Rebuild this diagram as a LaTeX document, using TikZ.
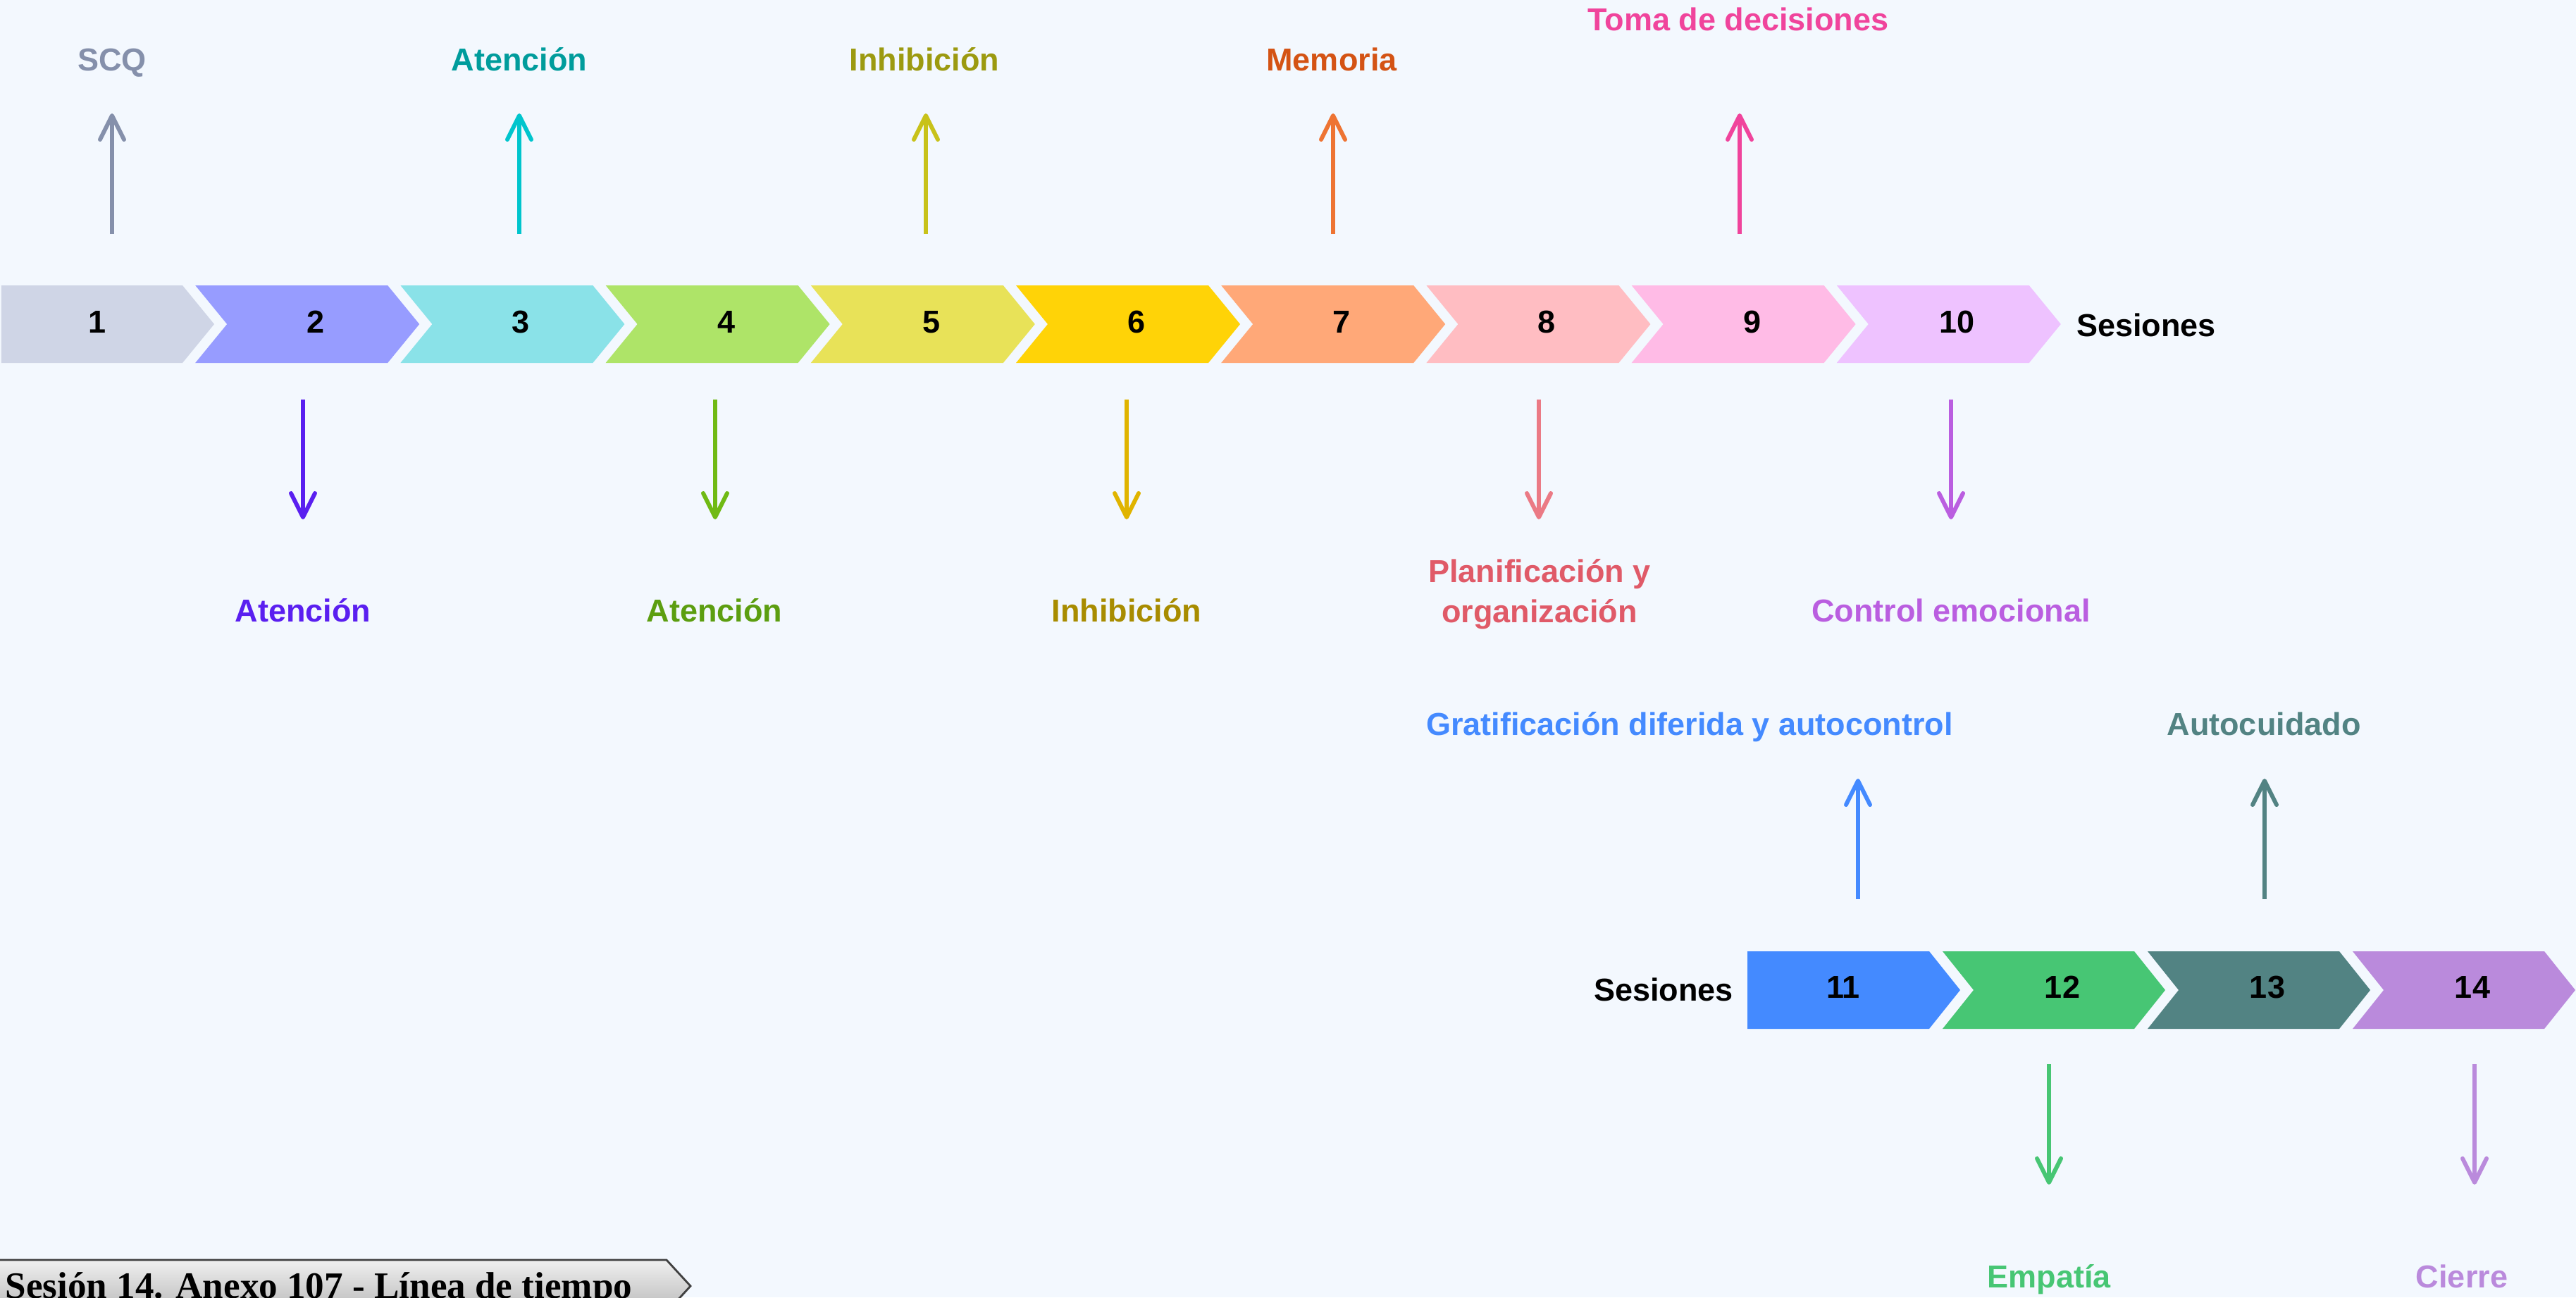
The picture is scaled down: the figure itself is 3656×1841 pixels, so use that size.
\documentclass[tikz,border=0pt]{standalone}
\usepackage{fontspec}
\setmainfont{Liberation Sans}
\newfontfamily\serifa{Liberation Serif}
\usepackage{xcolor}
\usetikzlibrary{arrows.meta}

\definecolor{fondo}{HTML}{F3F8FE}
% chevron fills
\definecolor{c1}{HTML}{CFD5E6}\definecolor{c2}{HTML}{979CFF}
\definecolor{c3}{HTML}{8AE2E8}\definecolor{c4}{HTML}{AEE468}
\definecolor{c5}{HTML}{E8E258}\definecolor{c6}{HTML}{FFD307}
\definecolor{c7}{HTML}{FFA878}\definecolor{c8}{HTML}{FFBDC2}
\definecolor{c9}{HTML}{FFBBE6}\definecolor{c10}{HTML}{EEC2FF}
\definecolor{c11}{HTML}{448AFF}\definecolor{c12}{HTML}{47C674}
\definecolor{c13}{HTML}{528383}\definecolor{c14}{HTML}{BA8ADC}
% label / arrow colours
\definecolor{scqt}{HTML}{8590AB}
\definecolor{at3t}{HTML}{009C9C}\definecolor{at3f}{HTML}{00C5CD}
\definecolor{in5t}{HTML}{9C9A10}\definecolor{in5f}{HTML}{C8C21A}
\definecolor{me7t}{HTML}{D45314}\definecolor{me7f}{HTML}{EE7433}
\definecolor{to9t}{HTML}{F0449C}
\definecolor{at2t}{HTML}{5A1FF0}
\definecolor{at4t}{HTML}{5C9E10}\definecolor{at4f}{HTML}{70BA14}
\definecolor{in6t}{HTML}{A88C00}\definecolor{in6f}{HTML}{E0B400}
\definecolor{pl8t}{HTML}{E05A68}\definecolor{pl8f}{HTML}{EB7A85}
\definecolor{co10t}{HTML}{BA5EE0}

\begin{document}
\begin{tikzpicture}[x=0.01cm, y=-0.01cm,
    num/.style    ={font=\fontsize{12.8}{15}\selectfont\bfseries, anchor=base, inner sep=0pt},
    etq/.style    ={font=\fontsize{12.8}{16.2}\selectfont\bfseries, anchor=base, inner sep=0pt, align=center},
    flecha/.style ={line width=1.7pt, -{Straight Barb[length=0.34cm, width=0.34cm, round]}},
    tagbox/.style ={top color=gray!12, bottom color=gray!55, draw=black!75, line width=0.8pt}
  ]
    % --- canvas ---
    \useasboundingbox (0,0) rectangle (3656,1841);
    \clip (0,0) rectangle (3656,1841);
    \fill[fondo] (0,0) rectangle (3656,1841);

    % --- Sessions 1-10 (top row) ---
    \fill[c1] (2,405) -- (259,405) -- (304,460) -- (259,515) -- (2,515) -- cycle;
    \node[num] (n1) at (138,472) {1};
    \foreach \k in {2,...,10} {
      \pgfmathsetmacro{\T}{304+(\k-1)*291.2}
      \fill[c\k] (\T-318,405) -- (\T-45,405) -- (\T,460) -- (\T-45,515)
                 -- (\T-318,515) -- (\T-273,460) -- cycle;
      \node[num] (n\k) at (\T-147,472) {\k};
    }
    \node[num] (ses1) at (3046,477) {Sesiones};

    % up arrows (odd sessions)
    \coordinate (u1a) at (159,332);  \coordinate (u1b) at (159,161);
    \coordinate (u3a) at (737,332);  \coordinate (u3b) at (737,161);
    \coordinate (u5a) at (1314,332); \coordinate (u5b) at (1314,161);
    \coordinate (u7a) at (1892,332); \coordinate (u7b) at (1892,161);
    \coordinate (u9a) at (2469,332); \coordinate (u9b) at (2469,161);
    \draw[flecha, scqt] (u1a) -- (u1b);
    \draw[flecha, at3f] (u3a) -- (u3b);
    \draw[flecha, in5f] (u5a) -- (u5b);
    \draw[flecha, me7f] (u7a) -- (u7b);
    \draw[flecha, to9t] (u9a) -- (u9b);
    \node[etq, scqt] (l1) at (159,100)  {SCQ};
    \node[etq, at3t] (l3) at (737,100)  {Atención};
    \node[etq, in5t] (l5) at (1312,100) {Inhibición};
    \node[etq, me7t] (l7) at (1890,100) {Memoria};
    \node[etq, to9t] (l9) at (2467,43)  {Toma de decisiones};

    % down arrows (even sessions)
    \coordinate (d2a) at (430,567);   \coordinate (d2b) at (430,737);
    \coordinate (d4a) at (1015,567);  \coordinate (d4b) at (1015,737);
    \coordinate (d6a) at (1599,567);  \coordinate (d6b) at (1599,737);
    \coordinate (d8a) at (2184,567);  \coordinate (d8b) at (2184,737);
    \coordinate (d10a) at (2769,567); \coordinate (d10b) at (2769,737);
    \draw[flecha, at2t]  (d2a) -- (d2b);
    \draw[flecha, at4f]  (d4a) -- (d4b);
    \draw[flecha, in6f]  (d6a) -- (d6b);
    \draw[flecha, pl8f]  (d8a) -- (d8b);
    \draw[flecha, co10t] (d10a) -- (d10b);
    \node[etq, at2t]  (l2) at (430,882)   {Atención};
    \node[etq, at4t]  (l4) at (1014,882)  {Atención};
    \node[etq, in6t]  (l6) at (1599,882)  {Inhibición};
    \node[etq, pl8t]  (l8) at (2185,883)  {Planificación y\\organización};
    \node[etq, co10t] (l10) at (2769,882) {Control emocional};

    % --- Sessions 11-14 (bottom row) ---
    \node[num] (ses2) at (2361,1420) {Sesiones};
    \fill[c11] (2480,1350) -- (2738,1350) -- (2782,1405) -- (2738,1460) -- (2480,1460) -- cycle;
    \node[num] (n11) at (2616,1416) {11};
    \foreach \k in {12,13,14} {
      \pgfmathsetmacro{\T}{2782+(\k-11)*291}
      \fill[c\k] (\T-316,1350) -- (\T-44,1350) -- (\T,1405) -- (\T-44,1460)
                 -- (\T-316,1460) -- (\T-272,1405) -- cycle;
      \node[num] (n\k) at (\T-146,1416) {\k};
    }

    \coordinate (u11a) at (2637,1276); \coordinate (u11b) at (2637,1105);
    \coordinate (u13a) at (3214,1276); \coordinate (u13b) at (3214,1105);
    \coordinate (d12a) at (2908,1510); \coordinate (d12b) at (2908,1681);
    \coordinate (d14a) at (3512,1510); \coordinate (d14b) at (3512,1681);
    \draw[flecha, c11] (u11a) -- (u11b);
    \draw[flecha, c13] (u13a) -- (u13b);
    \draw[flecha, c12] (d12a) -- (d12b);
    \draw[flecha, c14] (d14a) -- (d14b);
    \node[etq, c11] (l11) at (2398,1043) {Gratificación diferida y autocontrol};
    \node[etq, c13] (l13) at (3213,1043) {Autocuidado};
    \node[etq, c12] (l12) at (2908,1827) {Empatía};
    \node[etq, c14] (l14) at (3494,1827) {Cierre};

    % --- caption tag (bottom left) ---
    \path[tagbox] (-10,1788) -- (946,1788) -- (980,1825) -- (946,1862) -- (-10,1862) -- cycle;
    \node[anchor=base west, inner sep=0pt, font=\serifa\fontsize{15.1}{18}\selectfont\bfseries]
      (tag) at (7,1842) {Sesión 14. Anexo 107 - Línea de tiempo};
\end{tikzpicture}
\end{document}
